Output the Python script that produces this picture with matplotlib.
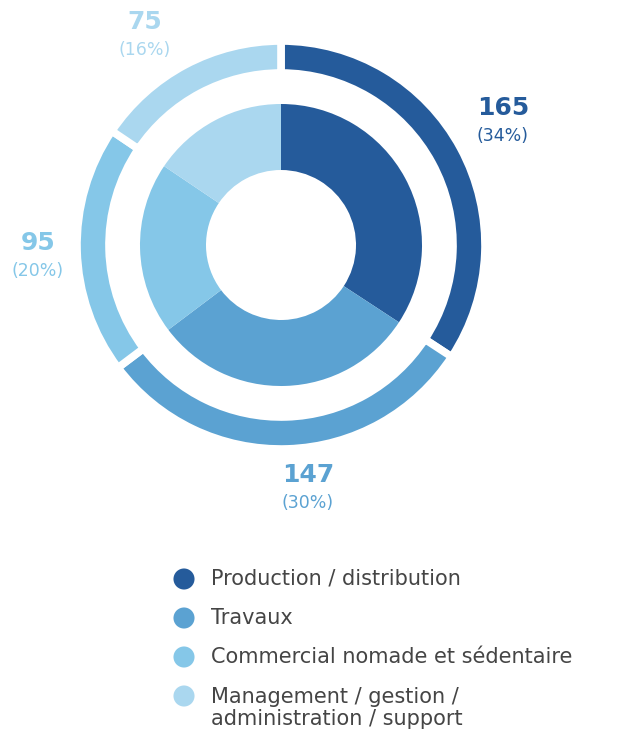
"""
plot.py
=======
Effectifs par famille de métiers: double anneau (contour segmenté + donut plein).

Outputs
-------
- out.png
"""

import matplotlib
matplotlib.use("Agg")
import matplotlib.pyplot as plt

W, H = 618, 736            # figure size in pixels
CX, CY = 281, 736 - 245    # ring centre (pixel coords, y up)

LABELS = ["Production / distribution",
          "Travaux",
          "Commercial nomade et sédentaire",
          "Management / gestion /\nadministration / support"]
VALUES = [165, 147, 95, 75]
COLORS = ["#255B9B", "#5BA2D2", "#85C7E8", "#AAD7EF"]

# (x, y) of each value label, pixel coords from top-left
LABEL_POS = [(503, 108), (308, 475), (38, 243), (145, 22)]


def main():
    total = sum(VALUES)
    pcts  = [100 * v / total for v in VALUES]

    fig = plt.figure(figsize=(W / 100, H / 100), dpi=100)
    ax  = fig.add_axes([0, 0, 1, 1])
    ax.set_xlim(0, W)
    ax.set_ylim(0, H)
    ax.set_aspect("equal")
    ax.axis("off")

    # Outer ring — thin, white gaps between segments
    ax.pie(VALUES, colors=COLORS, startangle=90, counterclock=False,
           radius=204, center=(CX, CY),
           wedgeprops=dict(width=32, edgecolor="white", linewidth=5.5))

    # Inner ring — thick donut, no gaps
    ax.pie(VALUES, colors=COLORS, startangle=90, counterclock=False,
           radius=141, center=(CX, CY),
           wedgeprops=dict(width=66, edgecolor="none", linewidth=0))

    ax.set_xlim(0, W)
    ax.set_ylim(0, H)

    # Value labels
    for (px, py), v, p, c in zip(LABEL_POS, VALUES, pcts, COLORS):
        ax.text(px, H - py, f"{v}", ha="center", va="center",
                fontsize=18, fontweight="bold", color=c)
        ax.text(px, H - py - 28, f"({p:.0f}%)", ha="center", va="center",
                fontsize=12.5, color=c)

    # Legend — drawn by hand under the rings
    legend_y = [579, 618, 657, 708]
    for lab, c, ly in zip(LABELS, COLORS, legend_y):
        dot_y = ly if "\n" not in lab else ly - 12
        ax.scatter([184], [H - dot_y], s=230, color=c, edgecolors="none")
        ax.text(211, H - ly, lab, ha="left", va="center", fontsize=15,
                color="#454545", linespacing=1.1)

    fig.savefig("out.png", dpi=100)
    plt.close(fig)


if __name__ == "__main__":
    main()
